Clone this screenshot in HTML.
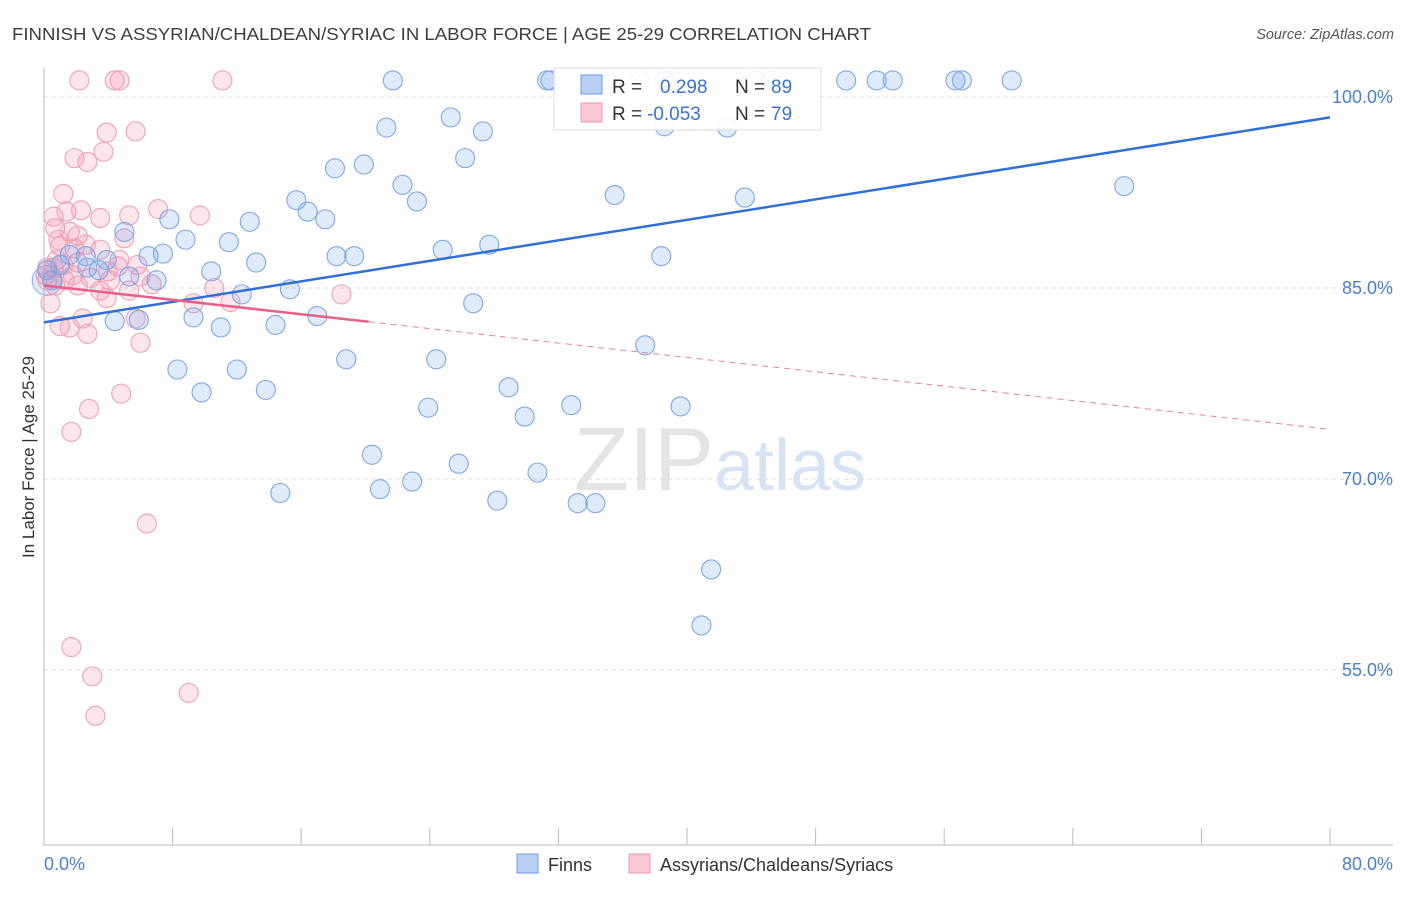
<!DOCTYPE html>
<html><head><meta charset="utf-8"><style>
body{margin:0;background:#fff;font-family:"Liberation Sans",sans-serif;}
svg text{font-family:"Liberation Sans",sans-serif;}
</style></head><body>
<svg id="chart" width="1406" height="892" xmlns="http://www.w3.org/2000/svg">
<text x="12" y="40" font-size="17.5" fill="#3d3d3d" textLength="859" lengthAdjust="spacingAndGlyphs">FINNISH VS ASSYRIAN/CHALDEAN/SYRIAC IN LABOR FORCE | AGE 25-29 CORRELATION CHART</text>
<text x="1394" y="39" font-size="14.5" fill="#555" text-anchor="end" font-style="italic">Source: ZipAtlas.com</text>
<text x="720" y="490" font-size="90" fill="#e4e4e4" text-anchor="middle" font-family="Liberation Serif">ZIP<tspan fill="#d6e3f5" font-family="Liberation Sans" font-size="72">atlas</tspan></text>
<g id="grid"></g>
<g id="axes"></g>
<g id="pts"></g>
<g id="trends"></g>
<text transform="translate(34,457) rotate(-90)" font-size="17" fill="#333" text-anchor="middle">In Labor Force | Age 25-29</text>
<text x="44" y="870" font-size="18" fill="#4a7fd0">0.0%</text>
<text x="1393" y="870" font-size="18" fill="#4a7fd0" text-anchor="end">80.0%</text>
<g>
<rect x="554" y="68" width="267" height="62" fill="#fff" fill-opacity="0.9" stroke="#ddd"/>
<rect x="581" y="75" width="21" height="19" fill="#b7d0f3" stroke="#6d9be0"/>
<rect x="581" y="103" width="21" height="19" fill="#fbc8d6" stroke="#ef9ab3"/>
<text x="612" y="93" font-size="19" fill="#333">R =</text>
<text x="660" y="93" font-size="19" fill="#3a72d4">0.298</text>
<text x="735" y="93" font-size="19" fill="#333">N =</text>
<text x="771" y="93" font-size="19" fill="#3a72d4">89</text>
<text x="612" y="120" font-size="19" fill="#333">R =</text>
<text x="647" y="120" font-size="19" fill="#3a72d4">-0.053</text>
<text x="735" y="120" font-size="19" fill="#333">N =</text>
<text x="771" y="120" font-size="19" fill="#3a72d4">79</text>
</g>
<g>
<rect x="517" y="854" width="21" height="19" fill="#b7d0f3" stroke="#6d9be0"/>
<text x="548" y="871" font-size="18" fill="#333">Finns</text>
<rect x="629" y="854" width="21" height="19" fill="#fbc8d6" stroke="#ef9ab3"/>
<text x="660" y="871" font-size="18" fill="#333">Assyrians/Chaldeans/Syriacs</text>
</g>
</svg>
<script>
const finnsX=[21.7,31.3,31.5,34.6,37.1,38.6,39.1,44.3,45.2,49.9,51.8,52.8,56.7,57.1,60.2,21.3,25.3,27.3,38.6,42.5,18.1,19.9,26.2,22.3,35.5,67.2,15.7,23.2,16.4,43.6,7.8,12.8,17.5,5.0,8.8,11.5,24.8,27.7,6.5,7.4,18.2,19.3,38.4,13.2,3.9,10.4,3.4,2.7,5.3,7.0,15.3,12.3,26.7,9.3,4.4,5.9,11.0,14.4,17.0,37.4,18.8,24.4,8.3,12.0,9.8,13.8,28.9,23.9,32.8,39.6,29.9,20.4,25.8,30.7,22.9,20.9,14.7,28.2,33.2,34.3,41.5,40.9,0.5,1.0,1.6,0.2,2.6];
const finnsY=[101.3,101.3,101.3,101.3,101.3,101.3,101.3,101.3,101.3,101.3,101.3,101.3,101.3,101.3,101.3,97.6,98.4,97.3,97.7,97.6,94.4,94.7,95.2,93.1,92.3,93.0,91.9,91.8,91.0,92.1,90.4,90.2,90.4,89.4,88.8,88.6,88.0,88.4,87.5,87.7,87.5,87.5,87.5,87.0,87.2,86.3,86.4,86.6,85.9,85.6,84.9,84.5,83.8,82.7,82.4,82.5,81.9,82.1,82.8,80.5,79.4,79.4,78.6,78.6,76.8,77.0,77.2,75.6,75.8,75.7,74.9,71.9,71.2,70.5,69.8,69.2,68.9,68.3,68.1,68.1,62.9,58.5,85.6,86.8,87.6,86.4,87.5];
const assyX=[2.2,4.4,4.7,11.1,3.9,5.7,3.7,1.9,2.7,1.2,0.6,1.4,2.3,3.5,7.1,5.3,9.7,0.7,1.6,2.1,5.0,1.0,1.9,3.5,0.8,0.6,0.2,2.1,1.2,5.8,4.6,4.0,6.0,1.8,2.9,2.1,3.5,5.3,6.7,10.6,3.9,0.4,9.3,11.6,18.5,2.4,5.7,1.0,1.6,2.7,6.0,2.8,4.8,1.7,6.4,1.7,3.0,9.0,3.2,0.2,0.7,1.3,0.1,4.1,4.7,0.9,2.6];
const assyY=[101.3,101.3,101.3,101.3,97.2,97.3,95.7,95.2,94.9,92.4,90.6,91.0,91.1,90.5,91.2,90.7,90.7,89.7,89.4,89.1,88.9,88.3,88.1,88.0,87.2,86.6,86.6,87.0,86.8,86.8,86.7,86.3,85.9,86.0,85.8,85.2,84.8,84.8,85.3,85.0,84.2,83.8,83.8,83.9,84.5,82.6,82.6,82.0,81.9,81.4,80.7,75.5,76.7,73.7,66.5,56.8,54.5,53.2,51.4,85.6,85.2,85.6,86.0,85.6,87.2,88.8,88.4];
const finnsTrend=[82.3,98.4];       // y at x=0 and x=80
const assyTrend=[85.2,73.9];        // y at x=0 and x=80
const assySolidEnd=20.2;
const yTicks=[100,85,70,55];
const yTickLabels=["100.0%","85.0%","70.0%","55.0%"];
const xTicks=[0,8,16,24,32,40,48,56,64,72,80];

const NS="http://www.w3.org/2000/svg";
const sx=v=>44+v*(1286/80);
const sy=v=>97+(100-v)*(191/15);
function mk(tag,attrs,parent){const e=document.createElementNS(NS,tag);for(const k in attrs)e.setAttribute(k,attrs[k]);parent.appendChild(e);return e;}
const grid=document.getElementById('grid'),axes=document.getElementById('axes'),pts=document.getElementById('pts'),tr=document.getElementById('trends');
yTicks.forEach((t,i)=>{
  const l=mk('line',{x1:44,x2:1393,y1:sy(t),y2:sy(t),stroke:'#ddd','stroke-dasharray':'4,4'},grid);
  
  
  const tx=mk('text',{x:1393,y:sy(t)+6,'font-size':18,fill:'#4a7fd0','text-anchor':'end'},grid);
  tx.textContent=yTickLabels[i];
  
  
});
const ax=mk('line',{x1:44,x2:44,y1:68,y2:845,stroke:'#bbb'},axes);


const bx=mk('line',{x1:44,x2:1393,y1:845,y2:845,stroke:'#bbb'},axes);


xTicks.forEach(t=>{
  const l=mk('line',{x1:sx(t),x2:sx(t),y1:828,y2:845,stroke:'#bbb'},axes);
  
  
});
const b1=mk('circle',{cx:sx(0.2),cy:sy(85.6),r:15,fill:'rgba(100,150,230,0.2)',stroke:'#8fb2e8','stroke-width':1.1},pts);


assyX.forEach((x,i)=>{
  const c=mk('circle',{cx:sx(x),cy:sy(assyY[i]),r:9.5,fill:'rgba(243,140,170,0.22)',stroke:'#f0a0b8','stroke-width':1.1},pts);
  
  
});
finnsX.forEach((x,i)=>{
  const c=mk('circle',{cx:sx(x),cy:sy(finnsY[i]),r:9.5,fill:'rgba(110,160,235,0.22)',stroke:'#7ea7e4','stroke-width':1.1},pts);
  
  
});
const fl=mk('line',{x1:sx(0),y1:sy(finnsTrend[0]),x2:sx(80),y2:sy(finnsTrend[1]),stroke:'#2f6fd6','stroke-width':2.5},tr);


const ay=x=>assyTrend[0]+(assyTrend[1]-assyTrend[0])*x/80;
const al=mk('line',{x1:sx(0),y1:sy(ay(0)),x2:sx(assySolidEnd),y2:sy(ay(assySolidEnd)),stroke:'#e8608a','stroke-width':2.5},tr);


const ad=mk('line',{x1:sx(assySolidEnd),y1:sy(ay(assySolidEnd)),x2:sx(80),y2:sy(ay(80)),stroke:'#e8809f','stroke-width':1,'stroke-dasharray':'6,5'},tr);


</script>
</body></html>
